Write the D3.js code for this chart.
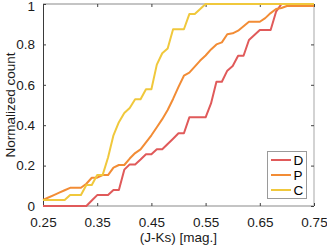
<!DOCTYPE html>
<html>
<head>
<meta charset="utf-8">
<script src="https://cdn.jsdelivr.net/npm/d3@7"></script>
<style>
body { margin: 0; background: #fff; }
text { font-family: "Liberation Sans", Arial, Helvetica, sans-serif; }
</style>
</head>
<body>
<script>
// x grid of the cumulative curves, (J-Ks) in mag.
var xVals = [0.25,0.26,0.27,0.28,0.29,0.30,0.31,0.32,0.33,0.34,
             0.35,0.36,0.37,0.38,0.39,0.40,0.41,0.42,0.43,0.44,
             0.45,0.46,0.47,0.48,0.49,0.50,0.51,0.52,0.53,0.54,
             0.55,0.56,0.57,0.58,0.59,0.60,0.61,0.62,0.63,0.64,
             0.65,0.66,0.67,0.68,0.69,0.70,0.71,0.72,0.73,0.74,0.75];
// normalized counts
var dVals = [0,0,0,0,0,0,0,0,0,0.027,
             0.054,0.054,0.054,0.079,0.079,0.18,0.206,0.206,0.23,0.256,
             0.256,0.281,0.281,0.307,0.333,0.36,0.36,0.439,0.439,0.439,
             0.439,0.508,0.615,0.615,0.67,0.693,0.744,0.744,0.822,0.846,
             0.871,0.871,0.871,0.962,1,1,1,1,1,1,1];
var pVals = [0.03,0.042,0.054,0.066,0.078,0.09,0.09,0.09,0.11,0.14,
             0.14,0.153,0.153,0.19,0.203,0.203,0.235,0.262,0.28,0.315,
             0.35,0.39,0.43,0.475,0.53,0.59,0.645,0.66,0.69,0.72,
             0.745,0.775,0.80,0.81,0.85,0.855,0.868,0.89,0.912,0.912,
             0.912,0.93,0.955,0.975,0.98,0.99,0.99,0.99,0.99,0.99,0.99];
var cVals = [0.03,0.03,0.03,0.03,0.03,0.054,0.054,0.054,0.104,0.104,
             0.153,0.153,0.24,0.35,0.415,0.46,0.485,0.528,0.528,0.578,
             0.578,0.70,0.756,0.78,0.875,0.875,0.875,0.95,0.95,0.975,
             1,1,1,1,1,1,1,1,1,1,
             1,1,1,1,1,1,1,1,1,1,1];
var seriesNames = ["D","P","C"];
var seriesColors = ["#e05a5a","#f28c35","#f0c83c"];
var xTicks = [0.25,0.35,0.45,0.55,0.65,0.75];
var yTicks = [0,0.2,0.4,0.6,0.8,1];

var margin = {top: 4, right: 13, bottom: 39, left: 43},
    width = 327 - margin.left - margin.right,
    height = 245 - margin.top - margin.bottom;

var x = d3.scaleLinear().domain([0.25, 0.75]).range([0, width]);
var y = d3.scaleLinear().domain([0, 1]).range([height, 0]);

var root = d3.select("body")
    .append("svg")
        .attr("width", 327)
        .attr("height", 245);
var svg = root.append("g")
        .attr("transform", "translate(" + margin.left + "," + margin.top + ")");

var fs = "13.5px";

// frame: left dark, the rest light grey
svg.append("line").attr("x1", width).attr("x2", width).attr("y1", 0).attr("y2", height)
    .style("stroke", "#c4c4c4").style("stroke-width", 1.5);
svg.append("line").attr("x1", 0).attr("x2", width).attr("y1", 0).attr("y2", 0)
    .style("stroke", "#c4c4c4").style("stroke-width", 2);
svg.append("line").attr("x1", 0).attr("x2", width).attr("y1", height).attr("y2", height)
    .style("stroke", "#c4c4c4").style("stroke-width", 2);
svg.append("line").attr("x1", 0.5).attr("x2", 0.5).attr("y1", 0).attr("y2", height)
    .style("stroke", "#3a3a3a").style("stroke-width", 1);

// axes with inward ticks
var xAxis = svg.append("g")
    .attr("transform", "translate(0," + height + ")")
    .call(d3.axisBottom(x).tickValues(xTicks).tickSize(-3).tickPadding(11).tickFormat(d3.format(".2f")));
var yAxis = svg.append("g")
    .call(d3.axisLeft(y).tickValues(yTicks).tickSize(-3).tickPadding(8).tickFormat(d3.format("")));
var topAxis = svg.append("g")
    .call(d3.axisTop(x).tickValues(xTicks).tickSize(-3).tickFormat(""));
var rightAxis = svg.append("g")
    .attr("transform", "translate(" + width + ",0)")
    .call(d3.axisRight(y).tickValues(yTicks).tickSize(-3).tickFormat(""));

[xAxis, yAxis, topAxis, rightAxis].forEach(function(a) {
    a.select(".domain").remove();
    a.selectAll(".tick line").style("stroke", "#404040");
    a.selectAll("text").style("font-size", fs).style("fill", "#1a1a1a")
        .style("font-family", "'Liberation Sans', Arial, sans-serif");
});
// keep the top label "1" inside the page
yAxis.selectAll(".tick text").filter(function(d) { return d === 1; }).attr("dy", "0.45em");

// curves
var allVals = [dVals, pVals, cVals];
var valueline = d3.line()
    .x(function(d, i) { return x(xVals[i]); })
    .y(function(d) { return y(d); });
allVals.forEach(function(vals, i) {
    svg.append("path")
        .attr("d", valueline(vals))
        .style("fill", "none")
        .style("stroke", seriesColors[i])
        .style("stroke-width", 2)
        .style("stroke-linejoin", "round");
});

// axis labels
root.append("text")
    .attr("transform", "translate(14.5," + (margin.top + height / 2) + ") rotate(-90)")
    .attr("text-anchor", "middle")
    .style("font-size", fs)
    .style("fill", "#1a1a1a")
    .text("Normalized count");
root.append("text")
    .attr("x", margin.left + width / 2)
    .attr("y", 242)
    .attr("text-anchor", "middle")
    .style("font-size", fs)
    .style("fill", "#1a1a1a")
    .text("(J-Ks) [mag.]");

// legend
var legend = root.append("g");
legend.append("rect")
    .attr("x", 267.5).attr("y", 151.5).attr("width", 39).attr("height", 47)
    .style("fill", "#fff").style("stroke", "#9a9a9a").style("stroke-width", 1);
seriesNames.forEach(function(name, i) {
    var ly = 160 + i * 15;
    legend.append("line")
        .attr("x1", 271).attr("x2", 291).attr("y1", ly).attr("y2", ly)
        .style("stroke", seriesColors[i]).style("stroke-width", 2);
    legend.append("text")
        .attr("x", 293.5).attr("y", ly).attr("dy", "0.36em")
        .style("font-size", fs)
        .style("fill", "#000")
        .text(name);
});
</script>
</body>
</html>
